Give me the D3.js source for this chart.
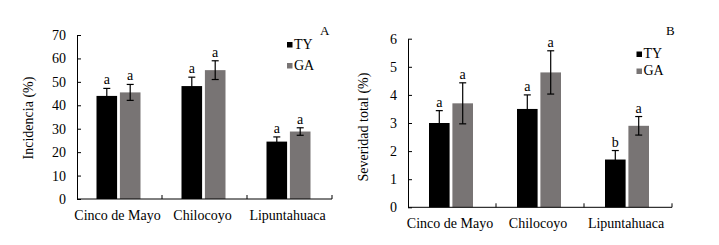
<!DOCTYPE html>
<html><head><meta charset="utf-8">
<script src="https://cdn.jsdelivr.net/npm/d3@7"></script>
<style>body{margin:0;background:#fff}svg{display:block}svg text{font-family:"Liberation Serif","Times New Roman",serif}</style>
</head><body><svg id="c" width="719" height="245"></svg>
<script>
const categories = ["Cinco de Mayo", "Chilocoyo", "Lipuntahuaca"];
const seriesNames = ["TY", "GA"];
// Panel A: Incidencia (%)
const incTY = [44, 48.2, 24.5];
const incGA = [45.5, 55, 28.8];
const incTYerr = [3.2, 3.8, 2.0];
const incGAerr = [3.4, 4.0, 1.6];
const incLetTY = ["a", "a", "a"];
const incLetGA = ["a", "a", "a"];
const incTicks = [0, 10, 20, 30, 40, 50, 60, 70];
// Panel B: Severidad total (%)
const sevTY = [3.0, 3.5, 1.7];
const sevGA = [3.7, 4.8, 2.9];
const sevTYerr = [0.44, 0.5, 0.32];
const sevGAerr = [0.73, 0.77, 0.33];
const sevLetTY = ["a", "a", "b"];
const sevLetGA = ["a", "a", "a"];
const sevTicks = [0, 1, 2, 3, 4, 5, 6];
const colors = ["#000000", "#787474"];

const svg = d3.select("#c");
const FONT = "Liberation Serif";

function panel(o) {
  const g = svg.append("g").attr("font-family", FONT);
  const x = d3.scaleBand().domain(categories).range([o.x0, o.x1]);
  const xs = d3.scaleBand().domain(seriesNames).range([0, 44]).paddingInner(0.12);
  const y = d3.scaleLinear().domain([0, o.max]).range([o.y0, o.y1]);
  const vals = [o.ty, o.ga], errs = [o.tyErr, o.gaErr], lets = [o.tyLet, o.gaLet];
  seriesNames.forEach((s, si) => {
    categories.forEach((c, ci) => {
      const bx = x(c) + x.bandwidth() / 2 - 23 + xs(s);
      const v = vals[si][ci], e = errs[si][ci];
      g.append("rect").attr("x", bx).attr("y", y(v)).attr("width", xs.bandwidth())
        .attr("height", y(0) - y(v)).attr("fill", colors[si]);
      const cx = bx + xs.bandwidth() / 2;
      g.append("line").attr("x1", cx).attr("x2", cx).attr("y1", y(v + e)).attr("y2", y(v - e))
        .attr("stroke", "#000").attr("stroke-width", 1.2);
      [v + e, v - e].forEach(t => g.append("line").attr("x1", cx - 3.5).attr("x2", cx + 3.5)
        .attr("y1", y(t)).attr("y2", y(t)).attr("stroke", "#000").attr("stroke-width", 1.2));
      g.append("text").attr("x", cx).attr("y", y(v + e) - 4).attr("text-anchor", "middle")
        .attr("font-size", 14).text(lets[si][ci]);
    });
  });
  const ya = g.append("g").attr("transform", `translate(${o.x0},0)`)
    .call(d3.axisLeft(y).tickValues(o.ticks).tickFormat(d3.format("d")).tickSizeInner(-4).tickSizeOuter(0).tickPadding(11));
  ya.attr("font-family", FONT).attr("font-size", 14);
  ya.selectAll("text").attr("fill", "#000");
  ya.selectAll("line,path").attr("stroke", "#000");
  const bounds = [o.x0].concat(categories.map(c => x(c) + x.bandwidth()));
  const xa = g.append("g").attr("transform", `translate(0,${o.y0})`);
  xa.append("line").attr("x1", o.x0).attr("x2", o.x1).attr("y1", 0).attr("y2", 0).attr("stroke", "#000");
  bounds.slice(1).forEach(b => xa.append("line").attr("x1", b).attr("x2", b).attr("y1", 0).attr("y2", -4).attr("stroke", "#000"));
  categories.forEach(c => xa.append("text").attr("x", x(c) + x.bandwidth() / 2 - 2).attr("y", 21)
    .attr("text-anchor", "middle").attr("font-size", 14).text(c));
  g.append("text").attr("transform", `translate(${o.labX},${o.labY}) rotate(-90)`)
    .attr("text-anchor", "middle").attr("font-size", 14).text(o.label);
  seriesNames.forEach((s, si) => {
    g.append("rect").attr("x", o.legX).attr("y", o.legY + si * o.legGap - 5.5).attr("width", 5.5).attr("height", 5.5).attr("fill", colors[si]);
    g.append("text").attr("x", o.legX + 7).attr("y", o.legY + si * o.legGap + 1).attr("font-size", 14).text(s);
  });
  g.append("text").attr("x", o.letX).attr("y", o.letY).attr("font-size", 13).text(o.letter);
}

panel({x0: 77, x1: 332, y0: 199, y1: 35, max: 70, ticks: incTicks,
  ty: incTY, ga: incGA, tyErr: incTYerr, gaErr: incGAerr, tyLet: incLetTY, gaLet: incLetGA,
  label: "Incidencia (%)", labX: 33, labY: 118, legX: 287, legY: 47.5, legGap: 21, letX: 320, letY: 35, letter: "A"});
panel({x0: 408, x1: 672, y0: 207.3, y1: 38.7, max: 6, ticks: sevTicks,
  ty: sevTY, ga: sevGA, tyErr: sevTYerr, gaErr: sevGAerr, tyLet: sevLetTY, gaLet: sevLetGA,
  label: "Severidad total (%)", labX: 368, labY: 127, legX: 636.5, legY: 57, legGap: 17, letX: 666, letY: 35, letter: "B"});
</script></body></html>
